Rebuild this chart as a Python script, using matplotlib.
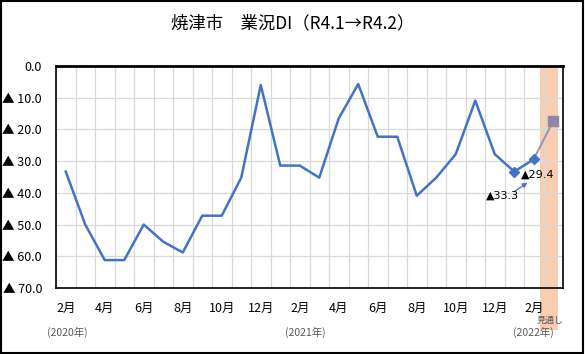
import matplotlib.pyplot as plt
from matplotlib.patches import Rectangle
import numpy as np

plt.rcParams['font.family'] = ['Noto Sans CJK JP', 'DejaVu Sans']

# 2020年2月 ～ 2022年2月 の実績 (▲ = マイナス、値は絶対値)
MONTHS = [2, 3, 4, 5, 6, 7, 8, 9, 10, 11, 12, 1,
          2, 3, 4, 5, 6, 7, 8, 9, 10, 11, 12, 1, 2, 3]
ACTUAL = [33.3, 50.0, 61.2, 61.2, 50.0, 55.4, 58.8, 47.2, 47.2, 35.2, 6.0,
          31.4, 31.4, 35.2, 16.5, 5.7, 22.3, 22.3, 40.9, 35.2, 27.8, 10.9,
          27.8, 33.3, 29.4]
FORECAST = 17.3  # 2022年3月 見通し
YEAR_LABELS = ['(2020年)', '(2021年)', '(2022年)']
YEAR_POS = [0.06, 12.27, 24.0]
Y_TICKS = [0, 10, 20, 30, 40, 50, 60, 70]

W, H = 585, 354
fig = plt.figure(figsize=(W / 100, H / 100), dpi=100)
ax = fig.add_axes([56 / W, 1 - 288 / H, 507 / W, 222 / H])

n = len(MONTHS)
x = np.arange(len(ACTUAL))

# 見通しの帯
band = Rectangle((24.32, -0.19), 0.92, 1.19, transform=ax.get_xaxis_transform(),
                 facecolor='#F8CBAD', alpha=0.95, edgecolor='none',
                 clip_on=False, zorder=0.3)
ax.add_patch(band)

ax.plot(x, ACTUAL, color='#4472C4', lw=1.8, zorder=3)
ax.plot(x[-2:], ACTUAL[-2:], 'D', color='#4472C4', ms=5, zorder=4)
ax.plot([x[-1], n - 1], [ACTUAL[-1], FORECAST], color='#9C97B8', lw=1.5, zorder=3)
ax.plot([n - 1], [FORECAST], 's', color='#8E88A8', ms=6.5, zorder=4)

ax.set_xlim(-0.5, n - 0.5)
ax.set_ylim(70, 0)
ax.set_yticks(Y_TICKS)
ax.set_yticklabels(['0.0'] + [f'▲ {v:.1f}' for v in Y_TICKS[1:]], fontsize=9)
ax.set_xticks(np.arange(0, n - 1, 2))
ax.set_xticklabels([f'{m}月' for m in MONTHS[0:n - 1:2]], fontsize=9)
ax.tick_params(axis='x', length=0, pad=10)
ax.tick_params(axis='y', length=0, pad=10)

ax.set_xticks(np.arange(-0.5, n, 1), minor=True)
ax.tick_params(which='minor', length=0)
ax.grid(True, which='minor', axis='x', color='#D9D9D9', lw=0.9)
ax.grid(True, which='major', axis='y', color='#D9D9D9', lw=0.9)
ax.set_axisbelow(True)

for s in ax.spines.values():
    s.set_color('black')
    s.set_linewidth(1.2)
ax.spines['top'].set_linewidth(2)

# データラベル
ax.text(24.2, 34.4, '▲29.4', fontsize=8, ha='center', va='center', family=['DejaVu Sans'])
ax.annotate('', xy=(23.8, 36.3), xytext=(22.9, 40.0),
            arrowprops=dict(arrowstyle='-|>', color='#4472C4', lw=0.9, mutation_scale=7))
ax.text(22.4, 40.9, '▲33.3', fontsize=8, ha='center', va='center', family=['DejaVu Sans'])

for lab, xp in zip(YEAR_LABELS, YEAR_POS):
    ax.text(xp, -0.2, lab, transform=ax.get_xaxis_transform(), fontsize=7.5,
            color='#595959', ha='center', va='center')
ax.text(24.83, -0.148, '見通し', transform=ax.get_xaxis_transform(), fontsize=6.5,
        color='#595959', ha='center', va='center')

fig.text(0.5, 1 - 23 / H, '焼津市　業況DI（R4.1→R4.2）', fontsize=12.5,
         ha='center', va='center')

fig.patches.append(Rectangle((0.002, 0.004), 0.994, 0.992, transform=fig.transFigure,
                             fill=False, edgecolor='black', lw=1.5))

fig.savefig('out.png', dpi=100)
